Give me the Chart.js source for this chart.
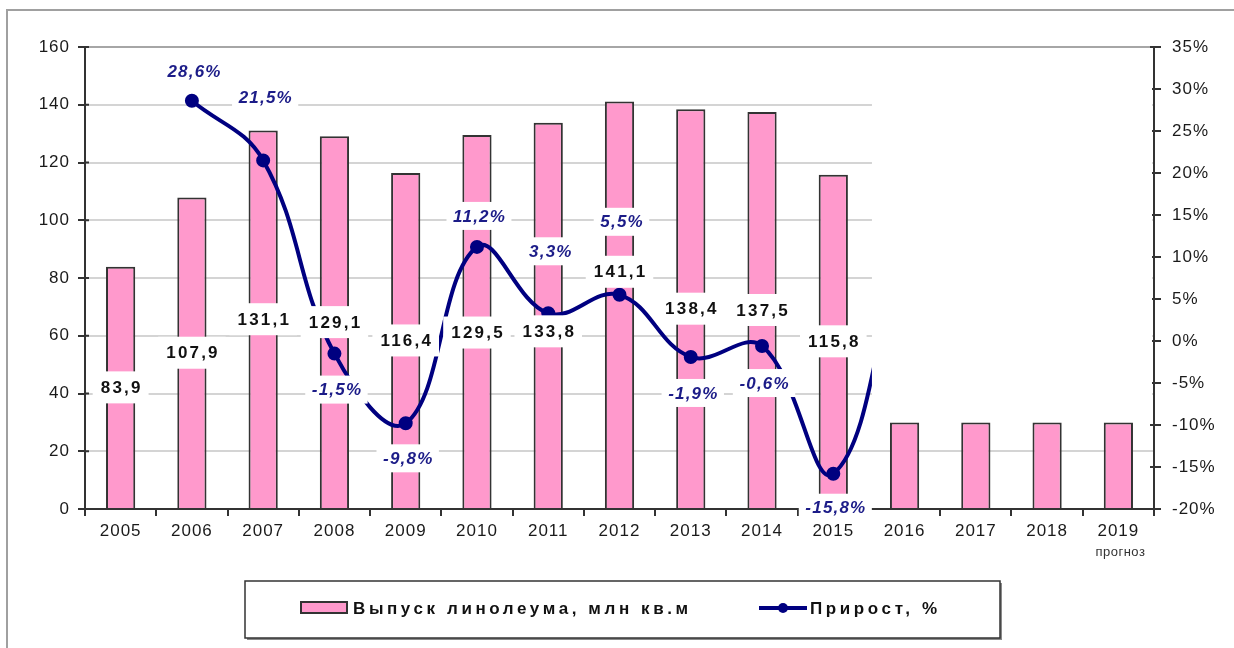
<!DOCTYPE html>
<html>
<head>
<meta charset="utf-8">
<script src="https://cdn.jsdelivr.net/npm/chart.js@4.4.1/dist/chart.umd.min.js"></script>
<style>
  html, body { margin: 0; padding: 0; background: #fff; }
  #chart { display: block; }
</style>
</head>
<body>
<canvas id="chart" width="1234" height="648"></canvas>
<script>
// данные графика
const years = ['2005', '2006', '2007', '2008', '2009', '2010', '2011', '2012', '2013', '2014', '2015', '2016', '2017', '2018', '2019'];
const output = [83.9, 107.9, 131.1, 129.1, 116.4, 129.5, 133.8, 141.1, 138.4, 137.5, 115.8, 30, 30, 30, 30];
const growth = [null, 28.6, 21.5, -1.5, -9.8, 11.2, 3.3, 5.5, -1.9, -0.6, -15.8, 13, null, null, null];
const forecastStart = 11; // с 2016 — прогноз, подписи и линия скрыты
const forecastNote = 'прогноз';
const outputName = 'Выпуск линолеума, млн кв.м';
const growthName = 'Прирост, %';

// сдвиг подписей относительно точек (как в исходной диаграмме)
const outputLabelShift = [0, 0, 0, 0, 0, 11, 16, -33, 0, 0, 0];
const growthLabelShift = [0, -29, -63, 36, 35, -31, -62, -73, 36, 37, 34];

const FONT = "'Liberation Sans', Arial, sans-serif";
const NAVY = '#000080';
const PINK = '#ff99cc';
const DARK = '#333';

function fmt(v) {
  return v.toFixed(1).replace('.', ',');
}

function boxedText(ctx, text, x, y, font, color, spacing, padX, boxH) {
  ctx.save();
  ctx.font = font;
  ctx.letterSpacing = spacing + 'px';
  const w = ctx.measureText(text).width;
  ctx.fillStyle = '#fff';
  ctx.fillRect(x - w / 2 - padX, y - boxH / 2, w + padX * 2, boxH);
  ctx.fillStyle = color;
  ctx.textAlign = 'left';
  ctx.textBaseline = 'middle';
  ctx.fillText(text, x - w / 2 + spacing / 2, y + 1);
  ctx.restore();
}

const sheetPlugin = {
  id: 'sheet',
  beforeUpdate(chart) {
    chart.ctx.letterSpacing = '1px';
  },
  beforeDraw(chart) {
    const ctx = chart.ctx;
    ctx.letterSpacing = '1px';
    ctx.save();
    ctx.fillStyle = '#fff';
    ctx.fillRect(0, 0, chart.width, chart.height);
    // рамка листа
    ctx.strokeStyle = '#a0a0a0';
    ctx.lineWidth = 2;
    ctx.beginPath();
    ctx.moveTo(7, chart.height);
    ctx.lineTo(7, 10);
    ctx.lineTo(chart.width, 10);
    ctx.stroke();
    ctx.restore();
  },
  beforeDatasetsDraw(chart) {
    // внутренние половинки засечек на осях Y
    const ctx = chart.ctx;
    const area = chart.chartArea;
    ctx.save();
    ctx.strokeStyle = DARK;
    ctx.lineWidth = 2;
    chart.scales.y.ticks.forEach(t => {
      const py = chart.scales.y.getPixelForValue(t.value);
      ctx.beginPath();
      ctx.moveTo(area.left, py);
      ctx.lineTo(area.left + 4, py);
      ctx.stroke();
    });
    chart.scales.y1.ticks.forEach(t => {
      const py = chart.scales.y1.getPixelForValue(t.value);
      ctx.beginPath();
      ctx.moveTo(area.right - 4, py);
      ctx.lineTo(area.right, py);
      ctx.stroke();
    });
    ctx.restore();
  },
  afterDatasetsDraw(chart) {
    const ctx = chart.ctx;
    const area = chart.chartArea;
    const xs = chart.scales.x;
    const ys = chart.scales.y;

    // белая заливка над прогнозными столбцами
    const maskLeft = (xs.getPixelForValue(forecastStart - 1) + xs.getPixelForValue(forecastStart)) / 2 + 3;
    const maskBottom = ys.getPixelForValue(Math.max(...output.slice(forecastStart))) - 2;
    ctx.save();
    ctx.fillStyle = '#fff';
    ctx.fillRect(maskLeft, area.top + 2, area.right - 2 - maskLeft, maskBottom - area.top - 2);
    ctx.restore();

    const barMeta = chart.getDatasetMeta(0);
    for (let i = 0; i < forecastStart; i++) {
      const el = barMeta.data[i];
      const cy = (el.y + el.base) / 2 + outputLabelShift[i];
      boxedText(ctx, fmt(output[i]), el.x, cy, 'bold 17px ' + FONT, '#111', 2.2, 7, 32);
    }

    const lineMeta = chart.getDatasetMeta(1);
    for (let i = 0; i < forecastStart; i++) {
      if (growth[i] === null) continue;
      const el = lineMeta.data[i];
      boxedText(ctx, fmt(growth[i]) + '%', el.x + 2, el.y + growthLabelShift[i], 'italic bold 17px ' + FONT, '#1c1c88', 1.2, 6, 28);
    }
  },
  afterDraw(chart) {
    const ctx = chart.ctx;
    const xs = chart.scales.x;
    ctx.save();

    // подпись "прогноз" под 2019
    ctx.font = '13px ' + FONT;
    ctx.letterSpacing = '0.5px';
    ctx.fillStyle = DARK;
    ctx.textAlign = 'center';
    ctx.textBaseline = 'middle';
    ctx.fillText(forecastNote, xs.getPixelForValue(years.length - 1) + 2, 552);

    // легенда в рамке
    const lx = 245, ly = 581, lw = 755, lh = 57;
    ctx.fillStyle = '#8a8a8a';
    ctx.fillRect(lx + 2, ly + 2, lw, lh);
    ctx.fillStyle = '#fff';
    ctx.fillRect(lx, ly, lw, lh);
    ctx.strokeStyle = DARK;
    ctx.lineWidth = 1.5;
    ctx.strokeRect(lx, ly, lw, lh);

    const my = 608;
    ctx.fillStyle = PINK;
    ctx.fillRect(301, my - 6, 46, 11);
    ctx.lineWidth = 2;
    ctx.strokeRect(301, my - 6, 46, 11);

    ctx.font = 'bold 17px ' + FONT;
    ctx.letterSpacing = '3.6px';
    ctx.fillStyle = '#111';
    ctx.textAlign = 'left';
    ctx.fillText(outputName, 353, my + 1);

    ctx.strokeStyle = NAVY;
    ctx.lineWidth = 4;
    ctx.beginPath();
    ctx.moveTo(759, my);
    ctx.lineTo(807, my);
    ctx.stroke();
    ctx.fillStyle = NAVY;
    ctx.beginPath();
    ctx.arc(783, my, 5, 0, Math.PI * 2);
    ctx.fill();

    ctx.fillStyle = '#111';
    ctx.fillText(growthName, 810, my + 1);
    ctx.restore();
  }
};

const tickFont = { family: FONT, size: 17 };

new Chart(document.getElementById('chart'), {
  data: {
    labels: years,
    datasets: [
      {
        type: 'bar',
        label: outputName,
        data: output,
        yAxisID: 'y',
        backgroundColor: PINK,
        borderColor: DARK,
        borderWidth: 2,
        barPercentage: 0.41,
        categoryPercentage: 1,
        order: 2
      },
      {
        type: 'line',
        label: growthName,
        data: growth,
        yAxisID: 'y1',
        borderColor: NAVY,
        backgroundColor: NAVY,
        borderWidth: 4,
        pointRadius: 5,
        pointBackgroundColor: NAVY,
        pointBorderColor: NAVY,
        tension: 0.4,
        order: 1
      }
    ]
  },
  options: {
    responsive: false,
    animation: false,
    devicePixelRatio: 1,
    layout: { padding: { top: 47, left: 0, right: 0, bottom: 0 } },
    plugins: {
      legend: { display: false },
      tooltip: { enabled: false }
    },
    scales: {
      x: {
        grid: { display: true, drawOnChartArea: false, offset: true, tickLength: 7, color: DARK, lineWidth: 2 },
        border: { color: DARK, width: 2 },
        ticks: { font: tickFont, color: '#1a1a1a', padding: 5, maxRotation: 0 },
        afterFit: s => { s.height = 139; }
      },
      y: {
        position: 'left',
        min: 0,
        max: 160,
        ticks: { stepSize: 20, font: tickFont, color: '#1a1a1a', padding: 8 },
        grid: {
          color: c => (c.tick && c.tick.value === 160 ? '#a6a6a6' : '#d4d4d4'),
          lineWidth: 2,
          tickColor: DARK,
          tickLength: 7
        },
        border: { color: DARK, width: 2 },
        afterFit: s => { s.width = 85; }
      },
      y1: {
        position: 'right',
        min: -20,
        max: 35,
        ticks: { stepSize: 5, font: tickFont, color: '#1a1a1a', padding: 11, callback: v => v + '%' },
        grid: { drawOnChartArea: false, tickColor: DARK, tickLength: 7, lineWidth: 2 },
        border: { color: DARK, width: 2 },
        afterFit: s => { s.width = 80; }
      }
    }
  },
  plugins: [sheetPlugin]
});
</script>
</body>
</html>
